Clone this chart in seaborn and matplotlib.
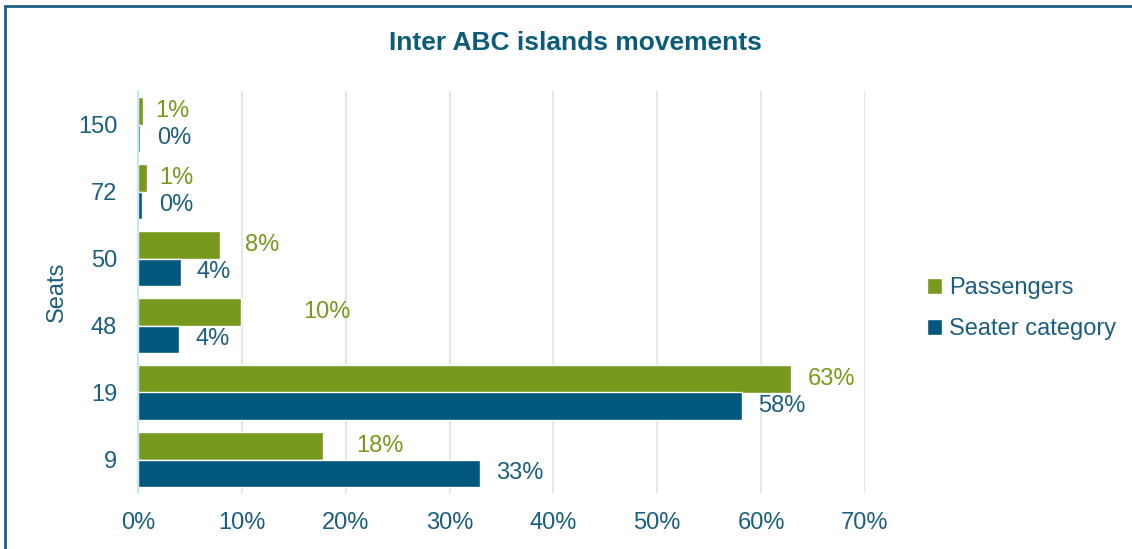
import matplotlib
matplotlib.use("Agg")
import matplotlib.pyplot as plt
import seaborn as sns
import pandas as pd
from matplotlib.patches import Rectangle
from matplotlib.ticker import PercentFormatter

seats = ["150", "72", "50", "48", "19", "9"]
passengers = [0.5, 0.9, 7.9, 9.9, 62.9, 17.8]
seater = [0.2, 0.4, 4.1, 3.9, 58.2, 32.9]
pass_labels = ["1%", "1%", "8%", "10%", "63%", "18%"]
seat_labels = ["0%", "0%", "4%", "4%", "58%", "33%"]
series = ["Passengers", "Seater category"]

green = "#76991e"
blue = "#00587c"
text_col = "#1b5e7e"

df = pd.DataFrame({
    "Seats": seats * 2,
    "value": passengers + seater,
    "series": [series[0]] * len(seats) + [series[1]] * len(seats),
})

sns.set_style("white")
plt.rcParams["font.family"] = ["Liberation Sans", "DejaVu Sans"]

fig = plt.figure(figsize=(11.32, 5.49), dpi=100)
ax = fig.add_axes([138 / 1132, 1 - 493 / 549, (865 - 138) / 1132, (493 - 91) / 549])

sns.barplot(data=df, y="Seats", x="value", hue="series", order=seats,
            hue_order=series, palette=[green, blue], saturation=1, orient="h",
            edgecolor="white", linewidth=1, width=0.81, ax=ax)

# label offsets in pixels, roughly where Excel put them
pass_pad = [12, 12, 25, 62, 16, 33]
seat_pad = [17, 17, 16, 17, 16, 16]
for lbl, pad, bar in zip(pass_labels, pass_pad, ax.containers[0]):
    ax.annotate(lbl, (bar.get_width(), bar.get_y() + bar.get_height() / 2),
                xytext=(pad * 0.72, 0), textcoords="offset points",
                va="center", ha="left", fontsize=17, color=green)
for lbl, pad, bar in zip(seat_labels, seat_pad, ax.containers[1]):
    ax.annotate(lbl, (bar.get_width(), bar.get_y() + bar.get_height() / 2),
                xytext=(pad * 0.72, 0), textcoords="offset points",
                va="center", ha="left", fontsize=17, color=text_col)

ax.set_xlim(0, 70)
ax.set_xticks(range(0, 71, 10))
ax.xaxis.set_major_formatter(PercentFormatter(decimals=0))
ax.grid(axis="x", color="#e6e6e6", linewidth=1.5)
ax.set_axisbelow(True)
for s in ["top", "right", "bottom"]:
    ax.spines[s].set_visible(False)
ax.spines["left"].set_color("#c5e6f6")
ax.spines["left"].set_linewidth(1.5)
ax.tick_params(axis="both", length=0, labelsize=17, labelcolor=text_col)
ax.tick_params(axis="x", pad=14)
ax.tick_params(axis="y", pad=15)
ax.set_xlabel("")
ax.set_ylabel("Seats", fontsize=17, color=text_col, labelpad=7)

leg = ax.legend(loc="center left", bbox_to_anchor=(1.056, 0.458), frameon=False,
                fontsize=17, handlelength=0.65, handleheight=0.65,
                handletextpad=0.3, labelspacing=0.8)
for t in leg.get_texts():
    t.set_color(text_col)

fig.text(575 / 1132, 1 - 43 / 549, "Inter ABC islands movements", ha="center",
         va="center", fontsize=19, fontweight="bold", color="#0b5b7a")

fig.patches.append(Rectangle((5 / 1132, -0.1), 1.2, 1 - 6 / 549 + 0.1,
                             transform=fig.transFigure, fill=False,
                             edgecolor="#1f5f85", linewidth=2))

fig.savefig("out.png", dpi=100, facecolor="white")
